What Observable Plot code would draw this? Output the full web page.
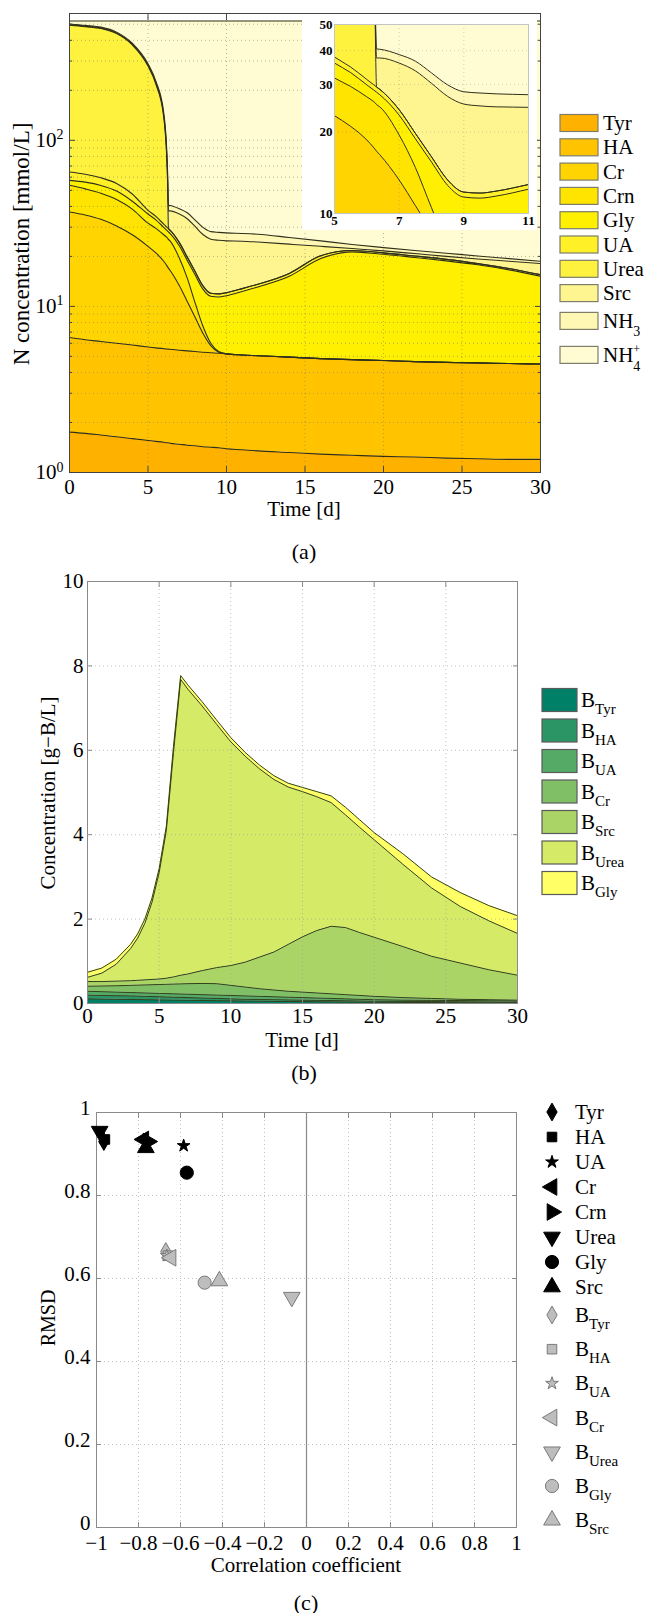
<!DOCTYPE html>
<html>
<head>
<meta charset="utf-8">
<script src="https://cdn.jsdelivr.net/npm/d3@7"></script>
<script src="https://cdn.jsdelivr.net/npm/@observablehq/plot@0.6"></script>
<style>
  html, body { margin: 0; padding: 0; background: #fff; }
  #root { position: relative; width: 647px; height: 1613px; overflow: hidden; background: #fff; }
  #root > svg { position: absolute; }
</style>
</head>
<body>
<div id="root"></div>
<script>
// ================= Panel (a): N concentration, stacked (cumulative tops) =================
const speciesA = ["Tyr", "HA", "Cr", "Crn", "Gly", "UA", "Urea", "Src", "NH3", "NH4+"];
const timeA = [0, 1, 2, 3, 4, 5, 5.5, 6, 6.2, 6.25, 6.3, 6.4, 7, 7.5, 8, 8.5, 9, 9.5, 10, 11, 12, 14, 16, 18, 20, 22, 24, 26, 28, 30];
const topTyr  = [1.75, 1.72, 1.68, 1.64, 1.6, 1.56, 1.54, 1.52, 1.51, 1.51, 1.51, 1.5, 1.48, 1.46, 1.45, 1.43, 1.42, 1.41, 1.39, 1.37, 1.35, 1.32, 1.29, 1.27, 1.25, 1.24, 1.22, 1.21, 1.2, 1.2];
const topHA   = [6.5, 6.3, 6.15, 6.0, 5.85, 5.7, 5.63, 5.56, 5.54, 5.53, 5.53, 5.52, 5.45, 5.4, 5.35, 5.3, 5.26, 5.22, 5.18, 5.1, 5.05, 4.95, 4.85, 4.78, 4.72, 4.65, 4.6, 4.57, 4.53, 4.5];
const topCr   = [37, 35.5, 33.5, 30.5, 27, 23, 21, 18.7, 17.6, 17.3, 17, 16.5, 13.3, 10.7, 8.6, 6.9, 5.8, 5.3, 5.18, 5.1, 5.05, 4.95, 4.85, 4.78, 4.72, 4.65, 4.6, 4.57, 4.53, 4.5];
const topCrn  = [53.6, 51, 48, 44, 38.5, 31.7, 29.5, 27, 26, 25.7, 25.3, 24.8, 19.5, 14.8, 10.5, 7.6, 6.0, 5.35, 5.18, 5.1, 5.05, 4.95, 4.85, 4.78, 4.72, 4.65, 4.6, 4.57, 4.53, 4.5];
const topGly  = [57.4, 56, 53.5, 49.5, 43, 36, 33.2, 29.9, 28.7, 28.4, 28.1, 27.5, 23.1, 18.9, 15.5, 12.7, 11.5, 11.4, 11.6, 12.3, 13.1, 15.2, 19.4, 21.3, 20.6, 19.7, 18.8, 17.8, 16.6, 15.2];
const topUA   = [64.4, 62.5, 59.5, 55, 47.5, 37.9, 34.8, 31.3, 30, 29.7, 29.4, 28.8, 24.2, 19.8, 16.2, 13.3, 12.0, 11.9, 12.1, 12.8, 13.6, 15.8, 20.2, 21.7, 21.0, 20.1, 19.2, 18.1, 16.9, 15.5];
const topUrea = [493, 483, 471, 439, 375, 280, 218, 138, 76, 55, 29.4, 28.8, 24.2, 19.8, 16.2, 13.3, 12.0, 11.9, 12.1, 12.8, 13.6, 15.8, 20.2, 21.7, 21.0, 20.1, 19.2, 18.1, 16.9, 15.5];
const topSrc  = [497, 487, 475, 443, 379, 284, 222, 142, 80, 59, 37.6, 37.6, 36, 33.7, 30.3, 27.1, 25.4, 25.0, 24.8, 24.7, 24.4, 23.7, 23.0, 22.3, 21.6, 20.8, 20.0, 19.3, 18.7, 18.1];
const topNH3  = [502, 492, 480, 448, 384, 289, 227, 147, 85, 64, 40.6, 40.5, 38.7, 36.6, 33.1, 29.9, 28.2, 27.9, 27.7, 27.5, 27.2, 26, 24.8, 23.6, 22.6, 21.7, 20.9, 20.1, 19.4, 18.7];
const topNH4  = [523, 523, 523, 523, 523, 523, 523, 523, 523, 523, 523, 523, 523, 523, 523, 523, 523, 523, 523, 523, 523, 523, 523, 523, 523, 523, 523, 523, 523, 523];
const ticksXA = [0, 5, 10, 15, 20, 25, 30];
const ticksYA = [1, 10, 100];
const minorYA = [2, 3, 4, 5, 6, 7, 8, 9, 20, 30, 40, 50, 60, 70, 80, 90, 200, 300, 400, 500];
const colorsA = ["#FFB100", "#FFC300", "#FFD400", "#FFE400", "#FFEF00", "#FFF028", "#FFF23E", "#FFF590", "#FFF8B4", "#FFFBD2"];

// inset
const ticksXI = [5, 7, 9, 11];
const ticksYI = [10, 20, 30, 40, 50];

// ================= Panel (b): boron concentration, stacked (cumulative tops) =================
const speciesB = ["Tyr", "HA", "UA", "Cr", "Src", "Urea", "Gly"];
const timeB = [0, 1, 2, 3, 3.5, 4, 4.5, 5, 5.5, 6, 6.5, 7, 8, 9, 10, 11, 12, 13, 14, 15, 16, 17, 18, 19, 20, 22, 24, 26, 28, 30];
const bTopTyr  = [0.11, 0.105, 0.1, 0.095, 0.093, 0.09, 0.088, 0.085, 0.083, 0.08, 0.078, 0.076, 0.072, 0.068, 0.064, 0.06, 0.056, 0.052, 0.048, 0.045, 0.042, 0.039, 0.036, 0.033, 0.03, 0.026, 0.022, 0.019, 0.016, 0.015];
const bTopHA   = [0.2, 0.19, 0.185, 0.18, 0.175, 0.17, 0.165, 0.16, 0.155, 0.15, 0.145, 0.14, 0.13, 0.12, 0.11, 0.1, 0.095, 0.09, 0.085, 0.08, 0.075, 0.07, 0.065, 0.06, 0.055, 0.05, 0.045, 0.04, 0.035, 0.03];
const bTopUA   = [0.29, 0.28, 0.27, 0.26, 0.255, 0.25, 0.245, 0.24, 0.235, 0.23, 0.225, 0.22, 0.21, 0.2, 0.19, 0.18, 0.17, 0.16, 0.15, 0.14, 0.13, 0.12, 0.11, 0.1, 0.09, 0.08, 0.075, 0.07, 0.065, 0.06];
const bTopCr   = [0.41, 0.415, 0.42, 0.43, 0.435, 0.44, 0.445, 0.45, 0.455, 0.46, 0.465, 0.47, 0.475, 0.47, 0.43, 0.39, 0.35, 0.32, 0.29, 0.27, 0.25, 0.23, 0.21, 0.19, 0.17, 0.14, 0.12, 0.1, 0.09, 0.08];
const bTopSrc  = [0.52, 0.52, 0.53, 0.54, 0.55, 0.56, 0.57, 0.58, 0.6, 0.63, 0.67, 0.7, 0.78, 0.85, 0.9, 0.98, 1.1, 1.22, 1.4, 1.58, 1.73, 1.83, 1.8, 1.68, 1.57, 1.35, 1.12, 0.96, 0.8, 0.67];
const bTopUrea = [0.62, 0.72, 0.93, 1.3, 1.55, 1.9, 2.4, 3.1, 4.1, 5.95, 7.68, 7.45, 7.05, 6.62, 6.2, 5.86, 5.56, 5.31, 5.13, 5.02, 4.9, 4.76, 4.47, 4.17, 3.88, 3.3, 2.74, 2.3, 1.96, 1.66];
const bTopGly  = [0.74, 0.84, 1.05, 1.4, 1.65, 2.0, 2.5, 3.2, 4.2, 6.1, 7.77, 7.55, 7.15, 6.72, 6.3, 5.95, 5.65, 5.4, 5.22, 5.12, 5.02, 4.92, 4.65, 4.35, 4.05, 3.55, 3.0, 2.63, 2.32, 2.08];
const ticksXB = [0, 5, 10, 15, 20, 25, 30];
const ticksYB = [0, 2, 4, 6, 8, 10];
const colorsB = ["#008066", "#2B9566", "#55AA66", "#80BF66", "#AAD566", "#D5EA66", "#FFFF66"];

// ================= Panel (c): RMSD vs correlation =================
const namesC  = ["Tyr", "HA", "UA", "Cr", "Crn", "Urea", "Gly", "Src", "B_Tyr", "B_HA", "B_UA", "B_Cr", "B_Urea", "B_Gly", "B_Src"];
const markerC = ["diamond", "square", "star", "left", "right", "down", "circle", "up", "diamond", "square", "star", "left", "down", "circle", "up"];
const corrC   = [-0.965, -0.96, -0.585, -0.775, -0.755, -0.985, -0.57, -0.765, -0.67, -0.66, -0.665, -0.645, -0.07, -0.485, -0.415];
const rmsdC   = [0.93, 0.935, 0.92, 0.935, 0.93, 0.955, 0.855, 0.915, 0.665, 0.655, 0.655, 0.65, 0.555, 0.59, 0.594];
const ticksXC = [-1, -0.8, -0.6, -0.4, -0.2, 0, 0.2, 0.4, 0.6, 0.8, 1];
const ticksYC = [0, 0.2, 0.4, 0.6, 0.8, 1];

// ================= rendering =================
const FONT = '"Liberation Serif", "Times New Roman", serif';
const root = document.getElementById("root");
function place(svg, left, top) { svg.style.left = left + "px"; svg.style.top = top + "px"; root.appendChild(svg); }
const gridStyle = {stroke: "#7a7a6a", strokeOpacity: 0.55, strokeDasharray: "1,3", strokeWidth: 1};
function inward(xt, yt, len, stroke) {
  return [
    Plot.axisX(xt, {anchor: "bottom", tickSize: -len, fill: "none", label: null, stroke}),
    Plot.axisX(xt, {anchor: "top", tickSize: -len, fill: "none", label: null, stroke}),
    Plot.axisY(yt, {anchor: "left", tickSize: -len, fill: "none", label: null, stroke}),
    Plot.axisY(yt, {anchor: "right", tickSize: -len, fill: "none", label: null, stroke})
  ];
}

// ---- (a)
const topsA = [topTyr, topHA, topCr, topCrn, topGly, topUA, topUrea, topSrc, topNH3, topNH4];
const layersA = speciesA.map((name, i) => timeA.map((t, j) => ({t, name, lo: i === 0 ? 1 : topsA[i - 1][j], hi: topsA[i][j]})));
const areaMarksA = () => layersA.map((L, i) => Plot.areaY(L, {x: "t", y1: "lo", y2: "hi", fill: colorsA[i], curve: "monotone-x", clip: true}));
const lineMarksA = (w) => layersA.map(L => Plot.lineY(L, {x: "t", y: "hi", stroke: "#30301a", strokeWidth: w, curve: "monotone-x", clip: true}));

const svgA = Plot.plot({
  width: 647, height: 520, marginLeft: 69, marginRight: 107, marginTop: 13, marginBottom: 48,
  x: {domain: [0, 30]},
  y: {type: "log", domain: [1, 580]},
  style: {fontFamily: FONT, fontSize: "21px", color: "#000", background: "transparent", overflow: "visible"},
  marks: [
    ...areaMarksA(),
    Plot.gridX(ticksXA.slice(1, -1), gridStyle),
    Plot.gridY([...minorYA, 10, 100], gridStyle),
    ...lineMarksA(1.1),
    Plot.frame({stroke: "#444"}),
    ...inward(ticksXA, ticksYA, 6, "#444"),
    Plot.axisY(minorYA, {anchor: "left", tickSize: -3, fill: "none", label: null, stroke: "#444"}),
    Plot.axisY(minorYA, {anchor: "right", tickSize: -3, fill: "none", label: null, stroke: "#444"}),
    Plot.axisX(ticksXA, {tickSize: 0, tickPadding: 7, label: null, tickFormat: d => String(d)}),
    Plot.axisY(ticksYA, {tickSize: 0, tickPadding: 6, label: null, tickFormat: d => "10^" + Math.round(Math.log10(d))})
  ]
});
svgA.querySelectorAll('g[aria-label="y-axis tick label"] text').forEach(t => {
  const s = t.textContent;
  if (!s.includes("^")) return;
  const [b, e] = s.split("^");
  t.textContent = b;
  const sp = document.createElementNS("http://www.w3.org/2000/svg", "tspan");
  sp.setAttribute("dy", "-0.55em");
  sp.setAttribute("font-size", "14");
  sp.textContent = e;
  t.appendChild(sp);
});
place(svgA, 0, 0);

// ---- inset
const svgI = Plot.plot({
  width: 235, height: 216, marginLeft: 32, marginRight: 9, marginTop: 10, marginBottom: 17,
  x: {domain: [5, 11]},
  y: {type: "log", domain: [10, 50]},
  style: {fontFamily: FONT, fontSize: "13px", color: "#000", background: "#fff", overflow: "visible"},
  marks: [
    ...areaMarksA(),
    Plot.gridX([7, 9], {...gridStyle, strokeOpacity: 0.35}),
    Plot.gridY([20, 30, 40], {...gridStyle, strokeOpacity: 0.35}),
    ...lineMarksA(1),
    Plot.frame({stroke: "#c4c4c4"}),
    Plot.axisX(ticksXI, {tickSize: 0, tickPadding: 2, label: null, tickFormat: d => String(d), fontWeight: "bold"}),
    Plot.axisY(ticksYI, {tickSize: 0, tickPadding: 2, label: null, tickFormat: d => String(d), fontWeight: "bold"})
  ]
});
place(svgI, 302, 14);

// ---- (b)
const topsB = [bTopTyr, bTopHA, bTopUA, bTopCr, bTopSrc, bTopUrea, bTopGly];
const layersB = speciesB.map((name, i) => timeB.map((t, j) => ({t, name, lo: i === 0 ? 0 : topsB[i - 1][j], hi: topsB[i][j]})));
const svgB = Plot.plot({
  width: 647, height: 470, marginLeft: 87, marginRight: 130, marginTop: 21, marginBottom: 27,
  x: {domain: [0, 30]},
  y: {domain: [0, 10]},
  style: {fontFamily: FONT, fontSize: "21px", color: "#000", background: "transparent", overflow: "visible"},
  marks: [
    ...layersB.map((L, i) => Plot.areaY(L, {x: "t", y1: "lo", y2: "hi", fill: colorsB[i], clip: true})),
    Plot.gridX(ticksXB.slice(1, -1), {...gridStyle, stroke: "#999", strokeOpacity: 0.6}),
    Plot.gridY(ticksYB.slice(1, -1), {...gridStyle, stroke: "#999", strokeOpacity: 0.6}),
    ...layersB.map(L => Plot.lineY(L, {x: "t", y: "hi", stroke: "#34401a", strokeWidth: 1, clip: true})),
    Plot.frame({stroke: "#8a8a8a"}),
    ...inward(ticksXB, ticksYB, 5, "#8a8a8a"),
    Plot.axisX(ticksXB, {tickSize: 0, tickPadding: 5, label: null, tickFormat: d => String(d)}),
    Plot.axisY(ticksYB, {tickSize: 0, tickPadding: 4, label: null, tickFormat: d => String(d)})
  ]
});
place(svgB, 0, 560);

// ---- (c)
const symName = {diamond: "diamond", square: "square", star: "star", circle: "circle", up: "triangle", down: "triangle", left: "triangle", right: "triangle"};
const symRot = {diamond: 0, square: 0, star: 0, circle: 0, up: 0, down: 180, left: -90, right: 90};
const symR = {diamond: 5.4, square: 5.4, star: 4, circle: 6.6, up: 6.2, down: 6.2, left: 6.2, right: 6.2};
const pointsC = namesC.map((n, i) => ({name: n, corr: corrC[i], rmsd: rmsdC[i], marker: markerC[i], bio: n.startsWith("B_")}));
const fmtC = d3.format("~g");
const svgC = Plot.plot({
  width: 647, height: 470, marginLeft: 96, marginRight: 131, marginTop: 22, marginBottom: 33,
  x: {domain: [-1, 1]},
  y: {domain: [0, 1]},
  style: {fontFamily: FONT, fontSize: "21px", color: "#000", background: "transparent", overflow: "visible"},
  marks: [
    Plot.gridX(ticksXC.filter(d => d !== 0 && Math.abs(d) !== 1), {...gridStyle, stroke: "#999", strokeOpacity: 0.6}),
    Plot.gridY(ticksYC.slice(1, -1), {...gridStyle, stroke: "#999", strokeOpacity: 0.6}),
    Plot.ruleX([0], {stroke: "#8a8a8a", strokeWidth: 1.2}),
    Plot.frame({stroke: "#8a8a8a"}),
    ...inward(ticksXC, ticksYC, 5, "#8a8a8a"),
    Plot.axisX(ticksXC, {tickSize: 0, tickPadding: 8, label: null, tickFormat: fmtC}),
    Plot.axisY(ticksYC, {tickSize: 0, tickPadding: 6, label: null, tickFormat: fmtC, dy: -4}),
    ...pointsC.map(d => Plot.dot([d], {
      x: "corr", y: "rmsd",
      symbol: symName[d.marker], rotate: symRot[d.marker], r: symR[d.marker],
      fill: d.bio ? "#bdbdbd" : "#000", stroke: d.bio ? "#7a7a7a" : "#000", strokeWidth: 1
    }))
  ]
});
place(svgC, 0, 1090);

// ---- overlay: titles, captions, legends
const ov = d3.create("svg").attr("width", 647).attr("height", 1613)
  .style("left", "0px").style("top", "0px").style("font-family", FONT).style("fill", "#000");

function label(x, y, s, size, rotate) {
  return ov.append("text")
    .attr("transform", `translate(${x},${y})` + (rotate ? " rotate(-90)" : ""))
    .attr("text-anchor", "middle").attr("dominant-baseline", "central")
    .style("font-size", size + "px").text(s);
}
label(21, 244, "N concentration [mmol/L]", 23, true);
label(304, 509, "Time [d]", 21);
label(304, 551, "(a)", 22);
label(48, 793, "Concentration [g\u2212B/L]", 21, true);
label(302, 1040, "Time [d]", 21);
label(304, 1072, "(b)", 22);
label(48, 1318, "RMSD", 20, true);
label(306, 1565, "Correlation coefficient", 21);
label(306, 1602, "(c)", 22);

// legend (a)
speciesA.forEach((name, i) => {
  const cy = 123 + i * 24.3 + (i >= 8 ? 3.5 : 0) + (i >= 9 ? 9.7 : 0);
  ov.append("rect").attr("x", 560).attr("y", cy - 8.5).attr("width", 38).attr("height", 17)
    .attr("fill", colorsA[i]).attr("stroke", "#7d7d6a").attr("stroke-width", 1.2);
  const t = ov.append("text").attr("x", 603).attr("y", cy + 7).style("font-size", "21px");
  if (name === "NH3") {
    t.text("NH");
    t.append("tspan").attr("dy", 8).style("font-size", "14px").text("3");
  } else if (name === "NH4+") {
    t.text("NH");
    t.append("tspan").attr("dy", -9).style("font-size", "12px").text("+");
    t.append("tspan").attr("dx", -6.8).attr("dy", 18).style("font-size", "14px").text("4");
  } else {
    t.text(name);
  }
});

// legend (b)
speciesB.forEach((name, i) => {
  const cy = 700 + i * 30.5;
  ov.append("rect").attr("x", 542).attr("y", cy - 11.5).attr("width", 35).attr("height", 23)
    .attr("fill", colorsB[i]).attr("stroke", "#5a5a5a").attr("stroke-width", 1.2);
  const t = ov.append("text").attr("x", 581).attr("y", cy + 7).style("font-size", "21px").text("B");
  t.append("tspan").attr("dy", 7).style("font-size", "15px").text(name);
});

// legend (c)
const d3Sym = {diamond: d3.symbolDiamond, square: d3.symbolSquare, star: d3.symbolStar, circle: d3.symbolCircle, up: d3.symbolTriangle, down: d3.symbolTriangle, left: d3.symbolTriangle, right: d3.symbolTriangle};
pointsC.forEach((d, i) => {
  const cy = i < 8 ? 1112 + i * 25 : 1315 + (i - 8) * 34.2;
  const r = symR[d.marker];
  ov.append("path")
    .attr("d", d3.symbol().type(d3Sym[d.marker]).size(Math.PI * r * r)())
    .attr("transform", `translate(552,${cy}) rotate(${symRot[d.marker]})`)
    .attr("fill", d.bio ? "#bdbdbd" : "#000").attr("stroke", d.bio ? "#7a7a7a" : "#000");
  const t = ov.append("text").attr("x", 575).attr("y", cy + 7).style("font-size", "21px");
  if (d.bio) {
    t.text("B");
    t.append("tspan").attr("dy", 7).style("font-size", "15px").text(d.name.slice(2));
  } else {
    t.text(d.name);
  }
});
place(ov.node(), 0, 0);
</script>
</body>
</html>
